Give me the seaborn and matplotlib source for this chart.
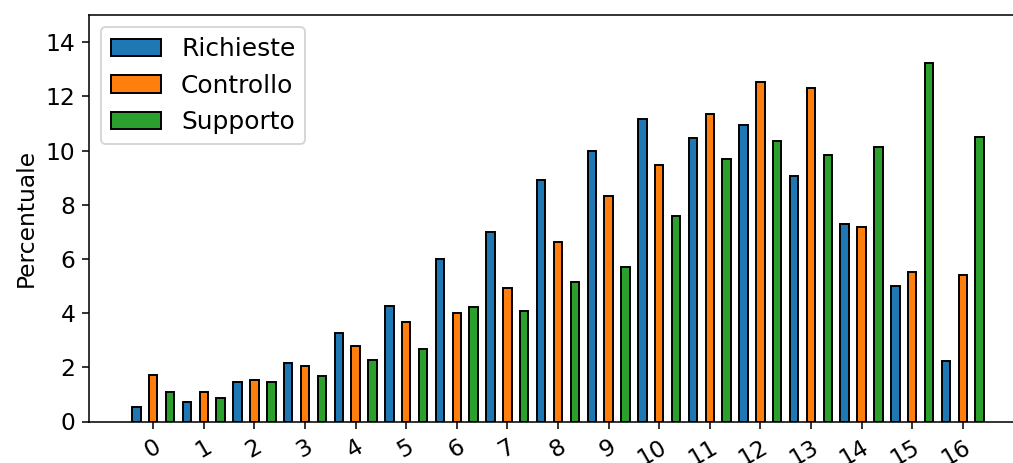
import matplotlib
matplotlib.use("Agg")
import matplotlib.pyplot as plt
import numpy as np
import pandas as pd
import seaborn as sns

# Categories (x axis) and the three series, values in percent
categorie = [str(i) for i in range(17)]
richieste = [0.55, 0.73, 1.45, 2.16, 3.27, 4.27, 6.00, 7.01, 8.90, 10.00,
             11.17, 10.46, 10.95, 9.06, 7.30, 5.01, 2.23]
controllo = [1.72, 1.10, 1.54, 2.05, 2.78, 3.68, 4.01, 4.94, 6.64, 8.33,
             9.45, 11.36, 12.52, 12.29, 7.17, 5.52, 5.39]
supporto = [1.10, 0.88, 1.45, 1.67, 2.27, 2.68, 4.23, 4.09, 5.16, 5.71,
            7.57, 9.69, 10.35, 9.83, 10.13, 13.23, 10.51]
serie = ["Richieste", "Controllo", "Supporto"]
colori = ["#1f77b4", "#ff7f0e", "#2ca02c"]

df = pd.DataFrame({
    "categoria": categorie * 3,
    "valore": richieste + controllo + supporto,
    "serie": [s for s in serie for _ in categorie],
})

plt.rcParams["font.family"] = ["DejaVu Sans"]
plt.rcParams["font.size"] = 12

fig = plt.figure(figsize=(1013 / 140, 463 / 140), dpi=140)
ax = fig.add_axes([89 / 1013, 41.5 / 463, 938 / 1013, (421.5 - 15) / 463])

sns.barplot(data=df, x="categoria", y="valore", hue="serie",
            order=categorie, hue_order=serie, palette=colori,
            width=1.0, gap=0.5, saturation=1, edgecolor="black",
            linewidth=1, ax=ax)

ax.set_xlim(-1.27, 17.27)
ax.set_ylim(0, 15)
ax.set_xlabel("")
ax.set_ylabel("Percentuale")
ax.set_yticks(np.arange(0, 15, 2))

for lab in ax.get_xticklabels():
    lab.set_rotation(30)
    lab.set_ha("right")
    lab.set_rotation_mode("anchor")
    lab.set_fontsize(12)

handles, labels = ax.get_legend_handles_labels()
ax.legend(handles, labels, loc="upper left", fontsize=12.8)

fig.savefig("out.png", dpi=140)
